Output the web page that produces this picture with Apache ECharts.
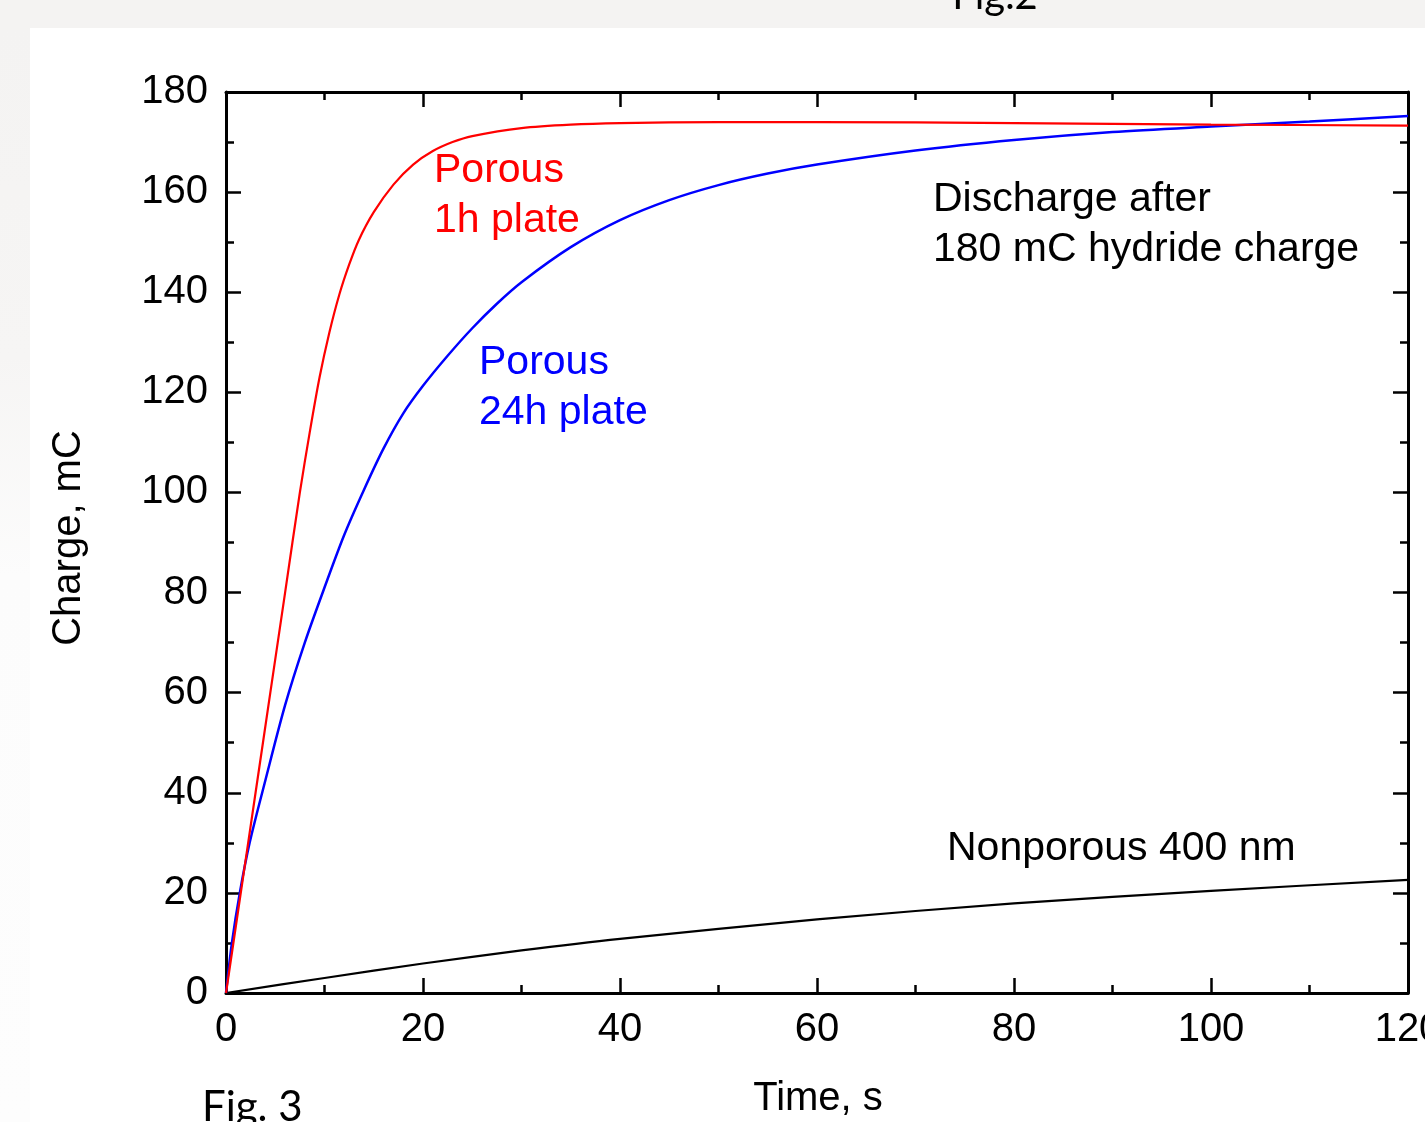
<!DOCTYPE html>
<html>
<head>
<meta charset="utf-8">
<script src="https://cdn.jsdelivr.net/npm/echarts@6/dist/echarts.min.js"></script>
<style>
  html, body { margin: 0; padding: 0; background: #fff; }
  #main { width: 1425px; height: 1122px; }
</style>
</head>
<body>
<div id="main"></div>
<script>
// values (time in s, charge in mC)
const tRed = [0, 1.5, 3, 4.5, 6, 7.5, 8.5, 9.5, 10.5, 11.5, 12.5, 13.5, 15, 17, 19, 21, 23, 25, 30, 35, 40, 50, 60, 80, 100, 120];
const qRed = [0, 20, 40, 60, 80, 100, 112, 123, 132, 139.5, 145.5, 150.5, 156, 161.5, 165.5, 168.2, 170, 171.2, 172.8, 173.5, 173.8, 174, 174, 173.8, 173.5, 173.3];

const tBlue = [0, 0.6, 1.4, 2.4, 4, 6, 8, 10, 12, 14, 16, 18, 20, 22.5, 25, 27.5, 30, 35, 40, 45, 50, 55, 60, 70, 80, 90, 100, 110, 120];
const qBlue = [0, 10, 20, 30, 42.5, 57.5, 70, 81, 91.5, 100.5, 108.8, 115.8, 121.3, 127.3, 132.8, 137.7, 142, 149, 154.4, 158.4, 161.4, 163.7, 165.5, 168.3, 170.4, 172, 173.1, 174.1, 175.2];

const tBlack = [0, 10, 20, 30, 40, 60, 80, 100, 120];
const qBlack = [0, 3.0, 5.9, 8.5, 10.8, 14.7, 17.9, 20.4, 22.6];

const xTicks = { min: 0, max: 120, interval: 20 };
const yTicks = { min: 0, max: 180, interval: 20 };

const zip = (a, b) => a.map((v, i) => [v, b[i]]);

const FONT = "Liberation Sans, Arial, sans-serif";
const myChart = echarts.init(document.getElementById("main"));

const axisCommon = () => ({
  axisLine: { show: true, onZero: false, lineStyle: { color: "#000", width: 3 } },
  axisTick: { show: true, inside: true, length: 15, lineStyle: { color: "#000", width: 2.5 } },
  minorTick: { show: true, splitNumber: 2, length: 8, lineStyle: { color: "#000", width: 2.5 } },
  splitLine: { show: false },
});

const option = {
  animation: false,
  backgroundColor: "#fff",
  grid: { left: 226, right: 17, top: 92, bottom: 129, outerBoundsMode: "none", containLabel: false },
  xAxis: [
    Object.assign({
      type: "value", position: "bottom",
      min: xTicks.min, max: xTicks.max, interval: xTicks.interval,
      axisLabel: { color: "#000", fontSize: 40, fontFamily: FONT, margin: 17 },
    }, axisCommon()),
    Object.assign({
      type: "value", position: "top",
      min: xTicks.min, max: xTicks.max, interval: xTicks.interval,
      axisLabel: { show: false },
    }, axisCommon()),
  ],
  yAxis: [
    Object.assign({
      type: "value", position: "left",
      min: yTicks.min, max: yTicks.max, interval: yTicks.interval,
      axisLabel: { color: "#000", fontSize: 40, fontFamily: FONT, margin: 18 },
    }, axisCommon()),
    Object.assign({
      type: "value", position: "right",
      min: yTicks.min, max: yTicks.max, interval: yTicks.interval,
      axisLabel: { show: false },
    }, axisCommon()),
  ],
  series: [
    {
      type: "line", name: "Nonporous 400 nm", data: zip(tBlack, qBlack),
      showSymbol: false, smooth: 0.3,
      lineStyle: { color: "#000", width: 2.2 },
    },
    {
      type: "line", name: "Porous 24h plate", data: zip(tBlue, qBlue),
      showSymbol: false, smooth: 0.3,
      lineStyle: { color: "#0000ff", width: 2.5 },
    },
    {
      type: "line", name: "Porous 1h plate", data: zip(tRed, qRed),
      showSymbol: false, smooth: 0.3,
      lineStyle: { color: "#ff0000", width: 2.2 },
    },
  ],
  graphic: [
    // slide background strips
    { type: "rect", z: -10, shape: { x: 0, y: 0, width: 1425, height: 28 }, style: { fill: "#f4f3f2" } },
    {
      type: "rect", z: -10, shape: { x: 0, y: 28, width: 30, height: 1094 },
      style: {
        fill: new echarts.graphic.LinearGradient(0, 0, 0, 1, [
          { offset: 0, color: "#f4f3f2" },
          { offset: 0.3, color: "#f6f5f4" },
          { offset: 0.5, color: "#fcfcfc" },
          { offset: 1, color: "#fdfdfd" },
        ]),
      },
    },
    { type: "text", x: 995, y: 16, style: { text: "Fig.2", font: "40px Lato, 'Open Sans', sans-serif", fill: "#000", align: "center", verticalAlign: "bottom" } },
    { type: "text", x: 202, y: 1086, style: { text: "Fig. 3", font: "42px Lato, 'Open Sans', sans-serif", fill: "#000", align: "left", verticalAlign: "top" } },
    // axis titles
    { type: "text", x: 818, y: 1099, style: { text: "Time, s", font: "40px " + FONT, fill: "#000", align: "center", verticalAlign: "middle" } },
    { type: "text", x: 69, y: 538, rotation: Math.PI / 2, style: { text: "Charge, mC", font: "40px " + FONT, fill: "#000", align: "center", verticalAlign: "middle" } },
    // curve annotations
    { type: "text", x: 434, y: 146, style: { text: "Porous\n1h plate", font: "41px " + FONT, lineHeight: 50, fill: "#ff0000", align: "left", verticalAlign: "top" } },
    { type: "text", x: 479, y: 338, style: { text: "Porous\n24h plate", font: "41px " + FONT, lineHeight: 50, fill: "#0000ff", align: "left", verticalAlign: "top" } },
    { type: "text", x: 933, y: 175, style: { text: "Discharge after\n180 mC hydride charge", font: "41px " + FONT, lineHeight: 50, fill: "#000", align: "left", verticalAlign: "top" } },
    { type: "text", x: 947, y: 849, style: { text: "Nonporous 400 nm", font: "41px " + FONT, fill: "#000", align: "left", verticalAlign: "middle" } },
  ],
};

myChart.setOption(option);
</script>
</body>
</html>
